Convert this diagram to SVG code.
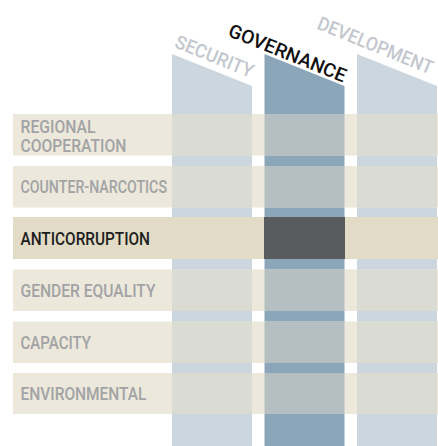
<svg xmlns="http://www.w3.org/2000/svg" width="438" height="446" viewBox="0 0 438 446">
<style>
.col-lt{fill:#CBD6DF}
.col-gv{fill:#8BA5B9}
.band{fill:#ECE8DB}
.band-hi{fill:#E2DCC6}
.cell-lt{fill:#DADBD3}
.cell-gv{fill:#B5BEC1}
.cell-dk{fill:#5A5B5D}
.lbl{font-family:Roboto,"Liberation Sans",sans-serif;font-size:17.5px;font-weight:500;fill:#A2A3A5}
.lbl-hi{fill:#1E1E1E}
.hdr{font-family:Roboto,"Liberation Sans",sans-serif;font-size:19px;font-weight:500;fill:#C3C7CD}
.hdr-hi{fill:#111111}
</style>
<rect width="438" height="446" fill="#FFFFFF"/>
<g id="columns">
  <g id="col-security"><polygon class="col-lt" points="172,54 252,86 252,446 172,446"/></g>
  <g id="col-governance"><polygon class="col-gv" points="264.5,54 344.5,86 344.5,446 264.5,446"/></g>
  <g id="col-development"><polygon class="col-lt" points="357,54 437,86 437,446 357,446"/></g>
</g>
<g id="headers">
  <text id="hdr-security" class="hdr" text-anchor="end" textLength="83" lengthAdjust="spacingAndGlyphs" transform="translate(250.5,78) rotate(22)">SECURITY</text>
  <text id="hdr-governance" class="hdr hdr-hi" text-anchor="end" textLength="125" lengthAdjust="spacingAndGlyphs" transform="translate(343,82.5) rotate(22)">GOVERNANCE</text>
  <text id="hdr-development" class="hdr" text-anchor="end" textLength="123" lengthAdjust="spacingAndGlyphs" transform="translate(430,74.5) rotate(22)">DEVELOPMENT</text>
</g>
<g id="row-regional">
  <rect class="band" x="13" y="114" width="425" height="41.5"/>
  <rect class="cell-lt" x="172" y="114" width="80" height="41.5"/>
  <rect class="cell-gv" x="264.5" y="114" width="80" height="41.5"/>
  <rect class="cell-lt" x="357" y="114" width="80" height="41.5"/>
  <text class="lbl" x="20.5" y="132.5" textLength="75" lengthAdjust="spacingAndGlyphs">REGIONAL</text>
  <text class="lbl" x="20.5" y="151.5" textLength="106" lengthAdjust="spacingAndGlyphs">COOPERATION</text>
</g>
<g id="row-counter-narcotics">
  <rect class="band" x="13" y="166" width="425" height="41.5"/>
  <rect class="cell-lt" x="172" y="166" width="80" height="41.5"/>
  <rect class="cell-gv" x="264.5" y="166" width="80" height="41.5"/>
  <rect class="cell-lt" x="357" y="166" width="80" height="41.5"/>
  <text class="lbl" x="20.5" y="193" textLength="146.5" lengthAdjust="spacingAndGlyphs">COUNTER-NARCOTICS</text>
</g>
<g id="row-anticorruption">
  <rect class="band-hi" x="13" y="217" width="425" height="42"/>
  <rect class="cell-dk" x="264" y="217" width="81" height="42"/>
  <text class="lbl lbl-hi" x="20.5" y="245" textLength="129.5" lengthAdjust="spacingAndGlyphs">ANTICORRUPTION</text>
</g>
<g id="row-gender">
  <rect class="band" x="13" y="269.5" width="425" height="41.5"/>
  <rect class="cell-lt" x="172" y="269.5" width="80" height="41.5"/>
  <rect class="cell-gv" x="264.5" y="269.5" width="80" height="41.5"/>
  <rect class="cell-lt" x="357" y="269.5" width="80" height="41.5"/>
  <text class="lbl" x="20.5" y="297" textLength="135" lengthAdjust="spacingAndGlyphs">GENDER EQUALITY</text>
</g>
<g id="row-capacity">
  <rect class="band" x="13" y="321.5" width="425" height="41.5"/>
  <rect class="cell-lt" x="172" y="321.5" width="80" height="41.5"/>
  <rect class="cell-gv" x="264.5" y="321.5" width="80" height="41.5"/>
  <rect class="cell-lt" x="357" y="321.5" width="80" height="41.5"/>
  <text class="lbl" x="20.5" y="349" textLength="70.5" lengthAdjust="spacingAndGlyphs">CAPACITY</text>
</g>
<g id="row-environmental">
  <rect class="band" x="13" y="373" width="425" height="41"/>
  <rect class="cell-lt" x="172" y="373" width="80" height="41"/>
  <rect class="cell-gv" x="264.5" y="373" width="80" height="41"/>
  <rect class="cell-lt" x="357" y="373" width="80" height="41"/>
  <text class="lbl" x="20.5" y="400" textLength="126" lengthAdjust="spacingAndGlyphs">ENVIRONMENTAL</text>
</g>
</svg>
